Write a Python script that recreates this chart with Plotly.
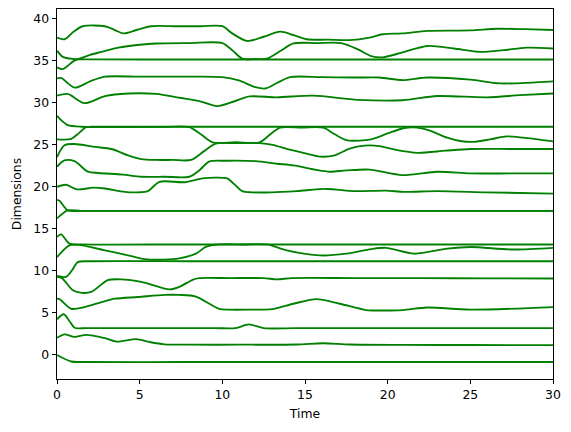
import plotly.graph_objects as go

# ---- data: each trajectory as knots (time, value) ----
a_t = [0, 0.45, 1.0, 1.56, 2.9, 3.5, 4.0, 4.8, 5.7, 7.2, 8.7, 10.0, 10.6, 11.5, 12.5, 13.5, 14.3, 15.1, 16.4, 17.7, 18.9, 19.7, 20.9, 22.4, 25.0, 26.6, 28.3, 30]
a_v = [37.7, 37.5, 38.4, 39.05, 39.05, 38.6, 38.2, 38.6, 39.05, 39.05, 39.05, 39.05, 38.2, 37.3, 37.8, 38.4, 38.0, 37.5, 37.45, 37.4, 37.7, 38.1, 38.2, 38.5, 38.55, 38.75, 38.7, 38.6]

b_t = [0, 0.35, 1.0, 2.0, 8.0, 16.0, 23.0, 30]
b_v = [36.15, 35.4, 35.15, 35.1, 35.1, 35.1, 35.1, 35.1]

c_t = [0, 0.35, 1.0, 1.5, 2.0, 2.7, 3.7, 5.0, 6.0, 8.0, 10.0, 10.6, 11.2, 12.0, 12.7, 13.5, 14.3, 15.7, 17.2, 18.2, 19.0, 19.7, 21.0, 22.4, 24.0, 25.6, 27.0, 28.4, 30]
c_v = [34.15, 33.95, 34.9, 35.3, 35.65, 36.0, 36.5, 36.85, 37.0, 37.05, 37.05, 36.2, 35.2, 35.15, 35.2, 36.1, 37.0, 37.05, 37.05, 36.3, 35.5, 35.35, 36.0, 36.7, 36.4, 36.0, 36.2, 36.5, 36.4]

d_t = [0, 0.25, 1.06, 2.0, 2.9, 5.0, 7.5, 10.0, 11.0, 12.0, 12.6, 13.3, 14.1, 16.0, 18.0, 19.5, 20.9, 22.4, 25.0, 26.8, 30]
d_v = [32.85, 32.9, 31.75, 32.5, 33.05, 33.05, 33.05, 33.0, 32.6, 31.8, 31.65, 32.3, 33.0, 33.0, 32.95, 32.95, 32.65, 32.95, 32.7, 32.25, 32.5]

e_t = [0, 0.65, 1.66, 2.9, 4.3, 6.0, 7.4, 8.6, 9.7, 10.7, 11.65, 13.3, 15.5, 18.2, 20.9, 23.0, 26.0, 28.0, 30]
e_v = [30.8, 31.0, 29.9, 30.75, 31.05, 31.0, 30.55, 30.15, 29.55, 30.1, 30.7, 30.6, 30.8, 30.3, 30.25, 30.75, 30.6, 30.85, 31.05]

f_t = [0, 0.3, 0.65, 1.5, 8.0, 16.0, 23.0, 30]
f_v = [28.4, 27.8, 27.3, 27.1, 27.1, 27.1, 27.1, 27.1]

g_t = [0, 0.86, 1.3, 1.77, 2.5, 4.5, 6.5, 8.0, 8.7, 9.4, 10.8, 12.25, 12.9, 13.5, 14.8, 16.1, 16.8, 17.5, 18.3, 19.0, 20.0, 21.0, 21.8, 22.6, 23.6, 24.4, 25.2, 26.2, 27.2, 28.2, 30]
g_v = [25.6, 25.65, 26.3, 27.05, 27.1, 27.1, 27.1, 27.05, 26.2, 25.25, 25.25, 25.25, 26.2, 27.0, 27.0, 27.0, 26.2, 25.5, 25.45, 25.6, 26.3, 26.95, 27.0, 26.6, 25.8, 25.4, 25.3, 25.6, 25.95, 25.8, 25.35]

h_t = [0, 0.45, 1.06, 2.3, 3.3, 4.3, 5.1, 6.0, 7.0, 8.1, 8.9, 9.6, 10.9, 12.25, 13.05, 14.0, 15.1, 15.9, 16.8, 17.7, 18.6, 19.5, 20.5, 21.8, 23.5, 25.0, 27.5, 30]
h_v = [23.5, 24.9, 25.05, 24.7, 24.45, 23.7, 23.25, 23.15, 23.15, 23.15, 24.2, 25.1, 25.15, 25.15, 24.95, 24.4, 23.9, 23.55, 23.7, 24.5, 24.85, 24.8, 24.35, 24.0, 24.25, 24.45, 24.45, 24.45]

i_t = [0, 0.45, 1.06, 1.87, 2.5, 4.0, 5.1, 6.5, 8.0, 8.6, 9.2, 10.2, 12.0, 13.3, 14.3, 15.7, 16.5, 17.5, 18.9, 20.9, 23.0, 25.0, 27.5, 30]
i_v = [22.35, 23.1, 23.0, 21.75, 21.6, 21.4, 21.15, 21.15, 21.15, 21.9, 22.95, 23.05, 23.0, 22.7, 22.5, 21.95, 21.75, 21.9, 22.0, 21.35, 21.75, 21.55, 21.55, 21.55]

j_t = [0, 0.55, 1.2, 2.2, 2.9, 4.1, 4.9, 5.5, 6.2, 7.7, 8.8, 9.6, 10.3, 10.7, 11.2, 11.8, 13.0, 14.5, 16.3, 18.0, 19.9, 21.0, 23.0, 26.0, 30]
j_v = [19.95, 20.2, 19.65, 19.85, 19.75, 19.35, 19.3, 19.45, 20.55, 20.5, 20.95, 21.05, 20.95, 20.3, 19.45, 19.3, 19.3, 19.45, 19.7, 19.45, 19.5, 19.35, 19.45, 19.3, 19.15]

k1_t = [0, 0.15, 0.65, 1.5, 8.0, 16.0, 23.0, 30]
k1_v = [18.4, 18.3, 17.15, 17.1, 17.1, 17.1, 17.1, 17.1]

k2_t = [0, 0.65, 1.5, 8.0, 16.0, 23.0, 30]
k2_v = [16.2, 17.15, 17.1, 17.1, 17.1, 17.1, 17.1]

l1_t = [0, 0.25, 0.75, 1.5, 8.0, 16.0, 23.0, 30]
l1_v = [14.0, 14.3, 13.2, 13.1, 13.1, 13.1, 13.1, 13.1]

l2_t = [0, 0.75, 1.3, 2.9, 4.3, 5.3, 6.5, 7.4, 8.4, 9.0, 9.8, 11.2, 12.7, 13.9, 15.9, 17.5, 19.0, 19.9, 21.6, 23.6, 25.0, 27.6, 30]
l2_v = [11.6, 13.0, 13.05, 12.4, 11.8, 11.35, 11.3, 11.45, 12.0, 12.8, 13.1, 13.1, 13.1, 12.4, 11.8, 12.0, 12.55, 12.7, 12.0, 12.6, 12.8, 12.5, 12.7]

m1_t = [0, 0.55, 0.9, 1.26, 2.0, 8.0, 16.0, 23.0, 30]
m1_v = [9.35, 9.25, 10.0, 11.0, 11.1, 11.1, 11.1, 11.1, 11.1]

m2_t = [0, 0.3, 0.96, 1.5, 2.07, 3.07, 3.9, 5.1, 6.8, 7.4, 8.2, 8.6, 10.5, 12.5, 13.3, 14.2, 18.0, 22.0, 26.0, 30]
m2_v = [9.25, 9.1, 7.65, 7.35, 7.45, 8.85, 8.95, 8.65, 7.75, 8.05, 8.9, 9.1, 9.1, 9.1, 8.95, 9.1, 9.1, 9.1, 9.07, 9.05]

n_t = [0, 0.15, 0.86, 1.66, 2.7, 3.5, 4.9, 6.5, 7.4, 8.4, 9.8, 10.4, 11.7, 13.0, 14.3, 15.7, 17.1, 18.7, 19.5, 20.9, 22.4, 25.0, 30]
n_v = [6.65, 6.6, 5.45, 5.65, 6.25, 6.65, 6.85, 7.1, 7.1, 6.9, 5.45, 5.35, 5.35, 5.4, 6.05, 6.6, 6.05, 5.3, 5.25, 5.3, 5.6, 5.35, 5.65]

o_t = [0, 0.4, 0.75, 1.06, 1.8, 4.0, 7.0, 9.5, 10.8, 11.6, 12.5, 14.5, 20.0, 25.0, 30]
o_v = [4.2, 4.8, 4.0, 3.2, 3.15, 3.15, 3.15, 3.15, 3.15, 3.6, 3.15, 3.15, 3.15, 3.15, 3.15]

p_t = [0, 0.45, 1.06, 1.77, 2.9, 3.6, 4.8, 5.6, 6.5, 8.0, 11.0, 14.5, 16.1, 17.7, 21.0, 25.0, 30]
p_v = [2.0, 2.4, 2.1, 2.35, 1.95, 1.55, 1.85, 1.5, 1.22, 1.18, 1.18, 1.2, 1.35, 1.2, 1.15, 1.14, 1.13]

q_t = [0, 0.86, 1.5, 8.0, 16.0, 23.0, 30]
q_v = [-0.05, -0.82, -0.88, -0.88, -0.88, -0.88, -0.88]

x_ticks = [0, 5, 10, 15, 20, 25, 30]
y_ticks = [0, 5, 10, 15, 20, 25, 30, 35, 40]

series = [(a_t, a_v), (b_t, b_v), (c_t, c_v), (d_t, d_v), (e_t, e_v), (f_t, f_v),
          (g_t, g_v), (h_t, h_v), (i_t, i_v), (j_t, j_v), (k1_t, k1_v), (k2_t, k2_v),
          (l1_t, l1_v), (l2_t, l2_v), (m1_t, m1_v), (m2_t, m2_v), (n_t, n_v),
          (o_t, o_v), (p_t, p_v), (q_t, q_v)]

fig = go.Figure()
for t, v in series:
    fig.add_trace(go.Scatter(x=t, y=v, mode="lines",
                             line=dict(color="#008000", width=1.85, shape="spline", smoothing=0.8),
                             showlegend=False, hoverinfo="skip"))

font = dict(family="DejaVu Sans", size=12.4, color="#000000")
axis_common = dict(showgrid=False, zeroline=False, showline=True, linecolor="#000000",
                   linewidth=1, mirror=True, ticks="outside", ticklen=4.4, tickwidth=1,
                   tickcolor="#000000", tickfont=font)

fig.update_layout(
    width=571, height=432,
    margin=dict(l=57, r=18, t=9, b=53),
    paper_bgcolor="white", plot_bgcolor="white",
    font=font,
    xaxis=dict(range=[0, 30], tickvals=x_ticks, title=dict(text="Time", font=font, standoff=8), **axis_common),
    yaxis=dict(range=[-2.9, 41.1], tickvals=y_ticks, title=dict(text="Dimensions", font=font, standoff=8), **axis_common),
)

fig.write_html("out.html")
